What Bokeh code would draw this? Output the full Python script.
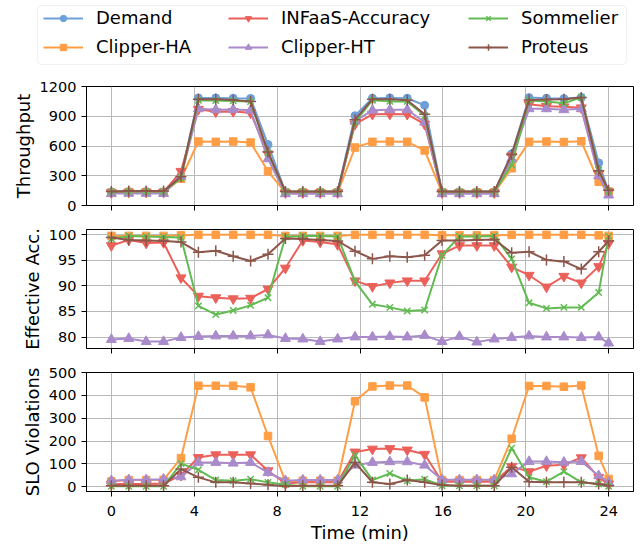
from bokeh.plotting import figure
from bokeh.models import Range1d, FixedTicker, Legend, LegendItem, BoxAnnotation
from bokeh.layouts import column, row
from bokeh.embed import file_html
from bokeh.resources import INLINE

# ---------------- data ----------------
time_min = [0, 0.84, 1.68, 2.52, 3.36, 4.2, 5.04, 5.88, 6.72, 7.56,
            8.4, 9.24, 10.08, 10.92, 11.76, 12.6, 13.44, 14.28, 15.12, 15.96,
            16.8, 17.64, 18.48, 19.32, 20.16, 21.0, 21.84, 22.68, 23.52, 24.0]
x_ticks = [0, 4, 8, 12, 16, 20, 24]

series_names = ["Demand", "Clipper-HA", "INFaaS-Accuracy", "Clipper-HT", "Sommelier", "Proteus"]

# Throughput (queries / s)
tput_demand = [138, 140, 140, 138, 300, 1085, 1085, 1082, 1080, 615,
               138, 138, 138, 138, 905, 1082, 1085, 1082, 1010, 138,
               138, 138, 138, 520, 1088, 1082, 1078, 1090, 430, 140]
tput_clipper_ha = [130, 135, 135, 135, 270, 645, 642, 645, 635, 345,
                   130, 130, 130, 130, 585, 642, 645, 642, 555, 130,
                   130, 130, 130, 375, 642, 645, 640, 648, 240, 140]
tput_infaas = [130, 135, 135, 135, 345, 970, 945, 948, 935, 520,
               130, 130, 130, 130, 820, 920, 922, 920, 820, 130,
               130, 130, 130, 500, 1020, 1000, 995, 985, 320, 140]
tput_clipper_ht = [120, 122, 122, 120, 290, 975, 965, 968, 960, 470,
                   118, 118, 118, 118, 850, 960, 965, 965, 840, 118,
                   118, 118, 118, 470, 975, 975, 965, 975, 300, 105]
tput_sommelier = [140, 142, 142, 142, 275, 1060, 1058, 1055, 1048, 530,
                  140, 140, 140, 140, 840, 1062, 1050, 1050, 905, 140,
                  140, 140, 140, 410, 1058, 1048, 1030, 1092, 360, 145]
tput_proteus = [140, 145, 145, 145, 290, 1072, 1072, 1065, 1050, 540,
                140, 140, 140, 140, 865, 1072, 1072, 1062, 920, 140,
                140, 140, 140, 515, 1065, 1068, 1072, 1088, 350, 155]

# Effective accuracy (%)
acc_clipper_ha = [99.8, 99.8, 99.8, 99.8, 99.9, 100, 100, 100, 100, 100,
                  99.8, 99.8, 99.8, 99.8, 100, 100, 100, 100, 100, 99.9,
                  99.9, 99.9, 99.9, 100, 100, 100, 100, 100, 99.9, 99.8]
acc_infaas = [97.9, 99.0, 98.4, 98.5, 91.6, 88.0, 87.7, 87.5, 87.6, 89.4,
              93.5, 98.9, 98.6, 98.1, 91.0, 89.9, 90.6, 91.0, 91.0, 96.3,
              97.9, 97.9, 97.9, 93.7, 92.1, 89.8, 91.9, 90.6, 93.8, 98.3]
acc_clipper_ht = [79.5, 79.7, 79.1, 79.1, 79.9, 80.1, 80.2, 80.2, 80.2, 80.4,
                  79.7, 79.6, 79.1, 79.6, 80.0, 80.0, 80.1, 80.0, 80.3, 79.1,
                  80.1, 79.0, 79.6, 79.9, 80.2, 80.0, 80.0, 79.9, 80.0, 78.8]
acc_sommelier = [99.2, 99.8, 99.7, 99.6, 99.5, 86.1, 84.4, 85.2, 86.2, 87.7,
                 99.6, 99.8, 99.8, 99.7, 90.9, 86.4, 85.8, 85.1, 85.3, 96.0,
                 99.7, 99.7, 99.8, 95.3, 86.7, 85.6, 85.8, 85.8, 88.7, 99.7]
acc_proteus = [99.5, 99.0, 98.9, 98.8, 98.6, 96.6, 96.9, 95.8, 94.9, 96.2,
               99.3, 99.2, 99.0, 98.8, 96.8, 95.3, 95.8, 95.6, 96.0, 98.9,
               98.9, 99.0, 99.1, 96.5, 96.7, 95.1, 94.8, 93.3, 96.7, 98.8]

# SLO violations
slo_clipper_ha = [23, 29, 29, 30, 125, 442, 442, 442, 435, 222,
                  23, 26, 26, 26, 374, 439, 443, 443, 391, 29,
                  29, 29, 29, 210, 441, 441, 438, 443, 135, 34]
slo_infaas = [12, 12, 12, 14, 50, 128, 140, 140, 140, 70,
              14, 19, 19, 19, 152, 165, 167, 161, 142, 22,
              22, 22, 22, 88, 66, 92, 96, 127, 41, 12]
slo_clipper_ht = [26, 30, 30, 33, 43, 106, 106, 103, 106, 62,
                  26, 29, 29, 29, 94, 106, 109, 109, 94, 30,
                  30, 30, 30, 56, 110, 110, 107, 110, 48, 19]
slo_sommelier = [2, 2, 2, 2, 101, 74, 29, 26, 33, 19,
                 9, 2, 2, 2, 138, 29, 58, 26, 33, 4,
                 4, 4, 4, 169, 41, 22, 66, 19, 12, 2]
slo_proteus = [4, 4, 4, 4, 77, 41, 19, 19, 14, 9,
               2, 4, 4, 4, 106, 19, 12, 29, 19, 7,
               4, 4, 4, 85, 22, 19, 19, 19, 12, 4]

tput_ticks = [0, 300, 600, 900, 1200]
acc_ticks = [80, 85, 90, 95, 100]
slo_ticks = [0, 100, 200, 300, 400, 500]

# ---------------- styling ----------------
STYLE = {
    "Demand": dict(color="#6e9fd8", marker="circle", size=8),
    "Clipper-HA": dict(color="#ff9d45", marker="square", size=7.5),
    "INFaaS-Accuracy": dict(color="#ec605a", marker="inverted_triangle", size=10),
    "Clipper-HT": dict(color="#a98bcb", marker="triangle", size=10),
    "Sommelier": dict(color="#62bb52", marker="x", size=9),
    "Proteus": dict(color="#8c564b", marker="cross", size=11),
}
FONT = "DejaVu Sans"
W = 640
LEFT = 86
FRAME_W = 547
LEG_H = 70


def draw(p, name, y, visible=True):
    st = STYLE[name]
    lw = 1.5 if st["marker"] in ("x", "cross") else 1
    r1 = p.line(time_min, y, line_color=st["color"], line_width=2, visible=visible)
    r2 = p.scatter(time_min, y, marker=st["marker"], size=st["size"],
                   fill_color=st["color"], line_color=st["color"], line_width=lw,
                   visible=visible)
    return [r1, r2]


def panel(height, top, bottom, yr, yticks, ylabel, xlabels):
    p = figure(width=W, height=height, x_range=Range1d(-1.2, 25.2),
               y_range=Range1d(*yr), output_backend="svg", toolbar_location=None,
               min_border_left=LEFT, min_border_right=W - LEFT - FRAME_W,
               min_border_top=top, min_border_bottom=bottom)
    p.outline_line_color = "black"
    p.outline_line_alpha = 1
    p.outline_line_width = 1
    p.xaxis.ticker = FixedTicker(ticks=x_ticks)
    p.yaxis.ticker = FixedTicker(ticks=yticks)
    p.xgrid.ticker = FixedTicker(ticks=x_ticks)
    p.ygrid.ticker = FixedTicker(ticks=yticks)
    for g in (p.xgrid[0], p.ygrid[0]):
        g.grid_line_color = "#b9b9b9"
        g.grid_line_width = 1
    for ax in (p.xaxis[0], p.yaxis[0]):
        ax.axis_line_color = "black"
        ax.major_tick_line_color = "black"
        ax.major_tick_out = 5
        ax.major_tick_in = 0
        ax.minor_tick_out = 0
        ax.minor_tick_in = 0
        ax.major_label_text_font = FONT
        ax.major_label_text_font_size = "14.5px"
        ax.major_label_text_color = "black"
        ax.major_label_standoff = 5
        ax.axis_label_text_font = FONT
        ax.axis_label_text_font_size = "18px"
        ax.axis_label_text_font_style = "normal"
        ax.axis_label_text_color = "black"
    p.yaxis.axis_label = ylabel
    p.yaxis.axis_label_standoff = 3
    if xlabels:
        p.xaxis.axis_label = "Time (min)"
        p.xaxis.axis_label_standoff = 3
        p.xaxis.major_label_standoff = 9
    else:
        p.xaxis.major_label_text_font_size = "1px"
        p.xaxis.major_label_text_color = None
        p.xaxis.major_label_standoff = 0
    return p


# ---------------- legend strip (own figure, pixel coordinates) ----------------
lp = figure(width=W, height=LEG_H, x_range=Range1d(0, W), y_range=Range1d(0, LEG_H),
            x_axis_type=None, y_axis_type=None, output_backend="svg",
            toolbar_location=None, min_border=0)
lp.outline_line_color = None
lp.add_layout(BoxAnnotation(left=37, right=626, bottom=LEG_H - 64, top=LEG_H - 5,
                            fill_color="white", fill_alpha=0.8,
                            line_color="#cccccc", line_width=1, border_radius=4))
tput_all = [tput_demand, tput_clipper_ha, tput_infaas, tput_clipper_ht,
            tput_sommelier, tput_proteus]
leg_rend = {}
for name, y in zip(series_names, tput_all):
    leg_rend[name] = draw(lp, name, y, visible=False)

cols = [["Demand", "Clipper-HA"], ["INFaaS-Accuracy", "Clipper-HT"], ["Sommelier", "Proteus"]]
col_x = [43, 228, 468]
for names, cx in zip(cols, col_x):
    lg = Legend(items=[LegendItem(label=n, renderers=leg_rend[n]) for n in names],
                location=(cx, LEG_H - 57), orientation="vertical",
                border_line_color=None, background_fill_alpha=0,
                inactive_fill_alpha=0,
                padding=0, margin=0, spacing=8,
                glyph_width=40, glyph_height=16, label_height=20,
                label_standoff=13, label_text_font=FONT,
                label_text_font_size="18px", label_text_color="black")
    lp.add_layout(lg)

# ---------------- panels ----------------
p1 = panel(86 - LEG_H + 119 + 12, 86 - LEG_H, 12, (0, 1200), tput_ticks, "Throughput", False)
for name, y in zip(series_names, tput_all):
    draw(p1, name, y)

p2 = panel(143, 12, 12, (77.75, 101.05), acc_ticks, "Effective Acc.", False)
for name, y in zip(series_names[1:], [acc_clipper_ha, acc_infaas, acc_clipper_ht,
                                      acc_sommelier, acc_proteus]):
    draw(p2, name, y)

p3 = panel(185, 12, 54, (-21, 500), slo_ticks, "SLO Violations", True)
for name, y in zip(series_names[1:], [slo_clipper_ha, slo_infaas, slo_clipper_ht,
                                      slo_sommelier, slo_proteus]):
    draw(p3, name, y)

layout = column(row(lp), column(p1, p2, p3, spacing=0), spacing=0)
open("out.html", "w").write(file_html(layout, INLINE))
